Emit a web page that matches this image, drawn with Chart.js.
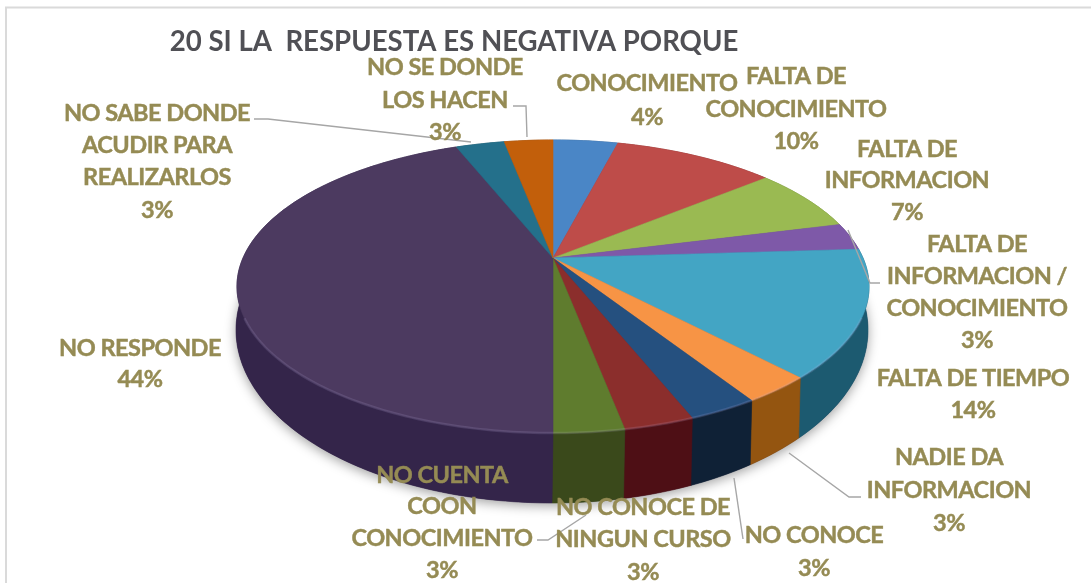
<!DOCTYPE html>
<html><head><meta charset="utf-8">
<script src="https://cdn.jsdelivr.net/npm/chart.js@4"></script>
<style>html,body{margin:0;padding:0;background:#fff;overflow:hidden}canvas{display:block;filter:blur(.45px)}</style>
</head><body><canvas id="c" width="1091" height="583"></canvas>
<script>
const chartTitle = '20 SI LA  RESPUESTA ES NEGATIVA PORQUE';
const categories = ['CONOCIMIENTO','FALTA DE CONOCIMIENTO','FALTA DE INFORMACION','FALTA DE INFORMACION / CONOCIMIENTO','FALTA DE TIEMPO','NADIE DA INFORMACION','NO CONOCE','NO CONOCE DE NINGUN CURSO','NO CUENTA COON CONOCIMIENTO','NO RESPONDE','NO SABE DONDE ACUDIR PARA REALIZARLOS','NO SE DONDE LOS HACEN'];
const values = [4,10,7,3,14,3,3,3,3,44,3,3];
const topColors = ['#4A86C6','#BE4C49','#9ABA52','#7E59A8','#43A5C4','#F79445','#25507F','#8B2E2C','#5F7C2E','#4C3A60','#24708B','#C25F0B'];
const sideColors = ['#2F5A8A','#7F2B29','#67802F','#52386F','#1C5A70','#945510','#0F2136','#4E0F15','#3A491B','#34254A','#174E60','#874208'];
// wrapped label lines and their placement (centre x, centre y of each line)
const labelLines = [
  ['CONOCIMIENTO'],['FALTA DE','CONOCIMIENTO'],['FALTA DE','INFORMACION'],['FALTA DE','INFORMACION /','CONOCIMIENTO'],
  ['FALTA DE TIEMPO'],['NADIE DA','INFORMACION'],['NO CONOCE'],['NO CONOCE DE','NINGUN CURSO'],
  ['NO CUENTA','COON','CONOCIMIENTO'],['NO RESPONDE'],['NO SABE DONDE','ACUDIR PARA','REALIZARLOS'],['NO SE DONDE','LOS HACEN']];
const labelX = [647,796,907,977,973,949,814,643,442,140,157,445];
const labelY = [[83,117],[76,109,141],[149,180,212],[244,276,308,340],[378,410],[457,490,523],[535,568],[507,539,572],[475,506,538,570],[348,379],[113,145,177,210],[67,100,132]];
const leaders = [
  [[254,119],[268,119],[471,142]],
  [[513,106],[526,106],[527,137]],
  [[848,230],[870,283],[880,283]],
  [[789,453],[849,497],[861,497]],
  [[734,478],[743,539]],
  [[537,540],[548,540],[586,515]]];
// projection of the pie
const P = {ax:553, ay:258, R:310, r:141, k:0.1946,
  top:{cx:553, cy:286, rx:316, ry:146.5},
  bot:{cx:552, cy:330, rx:316, ry:173}};

function project(t){
  const w = 1 + P.k*Math.cos(t);
  return {x:P.ax + P.R*Math.sin(t)/w, y:P.ay - P.r*Math.cos(t)/w};
}
function lower(pt){
  const sx=(pt.x-P.top.cx)/P.top.rx, cy=(pt.y-P.top.cy)/P.top.ry;
  const phi=Math.atan2(sx,-cy);
  return {x:P.bot.cx+P.bot.rx*Math.sin(phi), y:P.bot.cy-P.bot.ry*Math.cos(phi)};
}
function rim(a,b){
  const n=Math.max(2,Math.ceil((b-a)/(Math.PI/180))), out=[];
  for(let i=0;i<=n;i++) out.push(project(a+(b-a)*i/n));
  return out;
}
const pie3d = {
  id:'pie3d',
  beforeDatasetsDraw(chart){
    const ctx=chart.ctx, arcs=chart.getDatasetMeta(0).data;
    ctx.save();
    // frame
    ctx.strokeStyle='#DADADA'; ctx.lineWidth=2;
    ctx.beginPath(); ctx.moveTo(6,600); ctx.lineTo(6,7.5); ctx.lineTo(1100,7.5); ctx.stroke();
    // soft ground shadow
    ctx.save();
    ctx.shadowColor='rgba(0,0,0,.38)'; ctx.shadowBlur=12; ctx.shadowOffsetY=3;
    ctx.fillStyle='#34254A';
    ctx.beginPath(); ctx.ellipse(P.bot.cx,P.bot.cy,P.bot.rx,P.bot.ry,0,0,Math.PI*2); ctx.fill();
    ctx.restore();
    // sides
    arcs.forEach((arc,i)=>{
      const a=arc.startAngle+Math.PI/2, b=arc.endAngle+Math.PI/2, pts=rim(a,b);
      ctx.beginPath();
      pts.forEach((p,j)=>j?ctx.lineTo(p.x,p.y):ctx.moveTo(p.x,p.y));
      pts.slice().reverse().forEach(p=>{const q=lower(p);ctx.lineTo(q.x,q.y);});
      ctx.closePath();
      ctx.fillStyle=sideColors[i]; ctx.strokeStyle=sideColors[i]; ctx.lineWidth=.6;
      ctx.fill(); ctx.stroke();
    });
    // top faces
    arcs.forEach((arc,i)=>{
      const a=arc.startAngle+Math.PI/2, b=arc.endAngle+Math.PI/2, pts=rim(a,b);
      ctx.beginPath(); ctx.moveTo(P.ax,P.ay);
      pts.forEach(p=>ctx.lineTo(p.x,p.y));
      ctx.closePath();
      ctx.fillStyle=arc.options.backgroundColor; ctx.strokeStyle=arc.options.backgroundColor; ctx.lineWidth=.6;
      ctx.fill(); ctx.stroke();
    });
    // bevel highlight on the front rim
    arcs.forEach((arc,i)=>{
      const a=arc.startAngle+Math.PI/2, b=arc.endAngle+Math.PI/2;
      ctx.beginPath();
      rim(a,b).forEach((p,j)=>{ if(p.y>P.top.cy+30){ctx.lineTo(p.x,p.y);} });
      ctx.strokeStyle='rgba(190,180,230,.16)'; ctx.lineWidth=2.5; ctx.stroke();
    });
    ctx.restore();
    return false;
  },
  afterDraw(chart){
    const ctx=chart.ctx;
    ctx.save();
    ctx.strokeStyle='#A6A6A6'; ctx.lineWidth=1.4;
    leaders.forEach(l=>{ctx.beginPath();l.forEach((p,j)=>j?ctx.lineTo(p[0],p[1]):ctx.moveTo(p[0],p[1]));ctx.stroke();});
    ctx.fillStyle='#958B54'; ctx.strokeStyle='#958B54'; ctx.lineWidth=.45;
    ctx.font='700 23.5px Lato'; ctx.letterSpacing='-0.5px'; ctx.textAlign='center'; ctx.textBaseline='middle';
    labelLines.forEach((lines,i)=>{
      lines.concat([values[i]+'%']).forEach((s,j)=>{
        ctx.fillText(s,labelX[i],labelY[i][j]);
        ctx.strokeText(s,labelX[i],labelY[i][j]);
      });
    });
    ctx.restore();
  }
};
new Chart(document.getElementById('c'),{
  type:'pie',
  data:{labels:categories,datasets:[{data:values,backgroundColor:topColors,borderWidth:0}]},
  plugins:[pie3d],
  options:{
    responsive:false,animation:false,
    layout:{padding:{right:183}},
    plugins:{legend:{display:false},tooltip:{enabled:false},
      title:{display:true,text:chartTitle,color:'#505055',font:{family:'Lato',size:27.6,weight:'700'},padding:{top:26,bottom:10}}}
  }
});
</script></body></html>
